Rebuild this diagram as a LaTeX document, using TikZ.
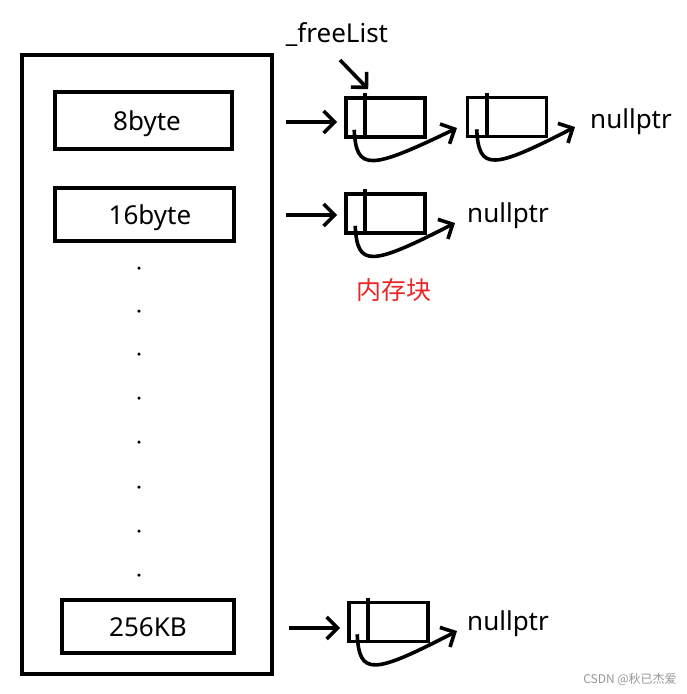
\documentclass[tikz,border=0pt]{standalone}
\usepackage{fontspec}
\setmainfont{Noto Sans}
\newfontfamily\cjk{Noto Sans CJK SC}
\usetikzlibrary{arrows.meta,calc}
\definecolor{memred}{RGB}{232,38,38}
\definecolor{wmgray}{RGB}{150,150,150}
\begin{document}
\begin{tikzpicture}[x=1pt,y=-1pt,
  thickline/.style={line width=3.6pt},
  sizebox/.style={draw, thickline, inner sep=0pt},
  blockbox/.style={draw, thickline, inner sep=0pt, minimum width=79pt, minimum height=39pt},
  arr/.style={thickline, -{Straight Barb[length=11pt,width=22pt,line width=3.6pt]}},
  lbl/.style={font=\fontsize{26}{30}\selectfont, inner sep=0pt},
  dotmark/.style={fill=black, circle, inner sep=0pt, minimum size=3.5pt}]
\useasboundingbox (0,0) rectangle (687,694);
% outer column
\node[draw, thickline, minimum width=250pt, minimum height=619pt, inner sep=0pt] (outer) at (147,364.5) {};
\node[sizebox, minimum width=177pt, minimum height=57pt] (s8) at (143.5,120.5) {};
\node[sizebox, minimum width=179pt, minimum height=53pt] (s16) at (144.5,214.5) {};
\node[sizebox, minimum width=172pt, minimum height=53pt] (s256) at (148,626.5) {};
\node[lbl, anchor=base] (t8) at (147,130) {8byte};
\node[lbl, anchor=base] (t16) at (150,224) {16byte};
\node[lbl, anchor=base] (t256) at (148,636) {256KB};
% dots
\foreach \yy [count=\i] in {268,311,354,398,442,487,531,575}
  \node[dotmark] (d\i) at (139,\yy) {};
% blocks
\node[blockbox] (b1) at (385.5,117.5) {};
\node[blockbox] (b2) at (507,117) {};
\node[blockbox] (b3) at (385.5,213.5) {};
\node[blockbox] (b4) at (388.5,622) {};
\foreach \b in {b1,b2,b3,b4}
  \draw[thickline] ($(\b.north west)+(21,-3)$) -- ($(\b.south west)+(21,0)$);
% feeding arrows
\coordinate (f1) at (286,122);
\coordinate (f2) at (286,215);
\coordinate (f3) at (289,628);
\draw[arr] (f1) -- ($(b1.west)+(-7,4.5)$);
\draw[arr] (f2) -- ($(b3.west)+(-7,1.5)$);
\draw[arr] (f3) -- ($(b4.west)+(-7,6)$);
% freeList
\node[lbl, anchor=base] (fl) at (337,42) {\_freeList};
\coordinate (flstart) at (340,60);
\draw[arr] (flstart) -- ($(b1.north west)+(24,-7)$);
% nullptr labels
\node[lbl, anchor=base west] (n1) at (590,128) {nullptr};
\node[lbl, anchor=base west] (n2) at (467,222) {nullptr};
\node[lbl, anchor=base west] (n3) at (467,630) {nullptr};
% curved next pointers
\coordinate (c1) at ($(b1.south west)+(10,-9)$);
\coordinate (c2) at ($(b2.south west)+(11,-9)$);
\coordinate (c3) at ($(b3.south west)+(11,-9)$);
\coordinate (c4) at ($(b4.south west)+(10,-9)$);
\coordinate (e1) at (457,128);
\coordinate (e2) at (575,127);
\coordinate (e3) at (455,223);
\coordinate (e4) at (457,631);
\draw[arr] (c1) .. controls ($(c1)+(2,42)$) and ($(c1)+(16,40)$) .. (e1);
\draw[arr] (c2) .. controls ($(c2)+(2,42)$) and ($(c2)+(16,40)$) .. (e2);
\draw[arr] (c3) .. controls ($(c3)+(2,42)$) and ($(c3)+(16,40)$) .. (e3);
\draw[arr] (c4) .. controls ($(c4)+(2,42)$) and ($(c4)+(16,40)$) .. (e4);
% red label
\node[inner sep=0pt, text=memred, font=\cjk\fontsize{25}{30}\selectfont] (mem) at (394,290) {内存块};
% watermark
\node[inner sep=0pt, text=wmgray, font=\cjk\fontsize{12}{14}\selectfont] (wm) at (630,679) {CSDN @秋已杰爱};
\end{tikzpicture}
\end{document}
